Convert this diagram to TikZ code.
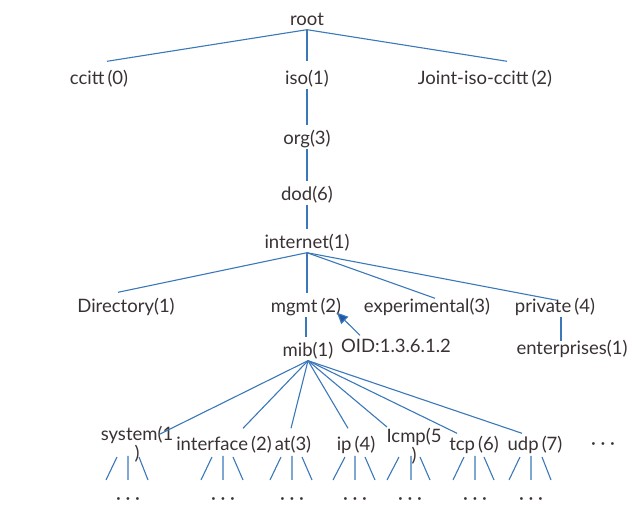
\documentclass[tikz,border=0pt]{standalone}
\usepackage{fontspec}
\setmainfont{Lato}
\usetikzlibrary{arrows.meta}
\definecolor{linkblue}{RGB}{58,120,186}
\definecolor{tipblue}{RGB}{28,90,165}
\definecolor{labelgray}{RGB}{58,50,50}

\begin{document}
\begin{tikzpicture}[x=1pt, y=-1pt,
  lbl/.style={text=labelgray, font=\fontsize{18.5}{16}\selectfont, inner sep=3pt, text height=16pt, text depth=1pt},
  twoline/.style={align=center, text height={}, text depth={}},
  link/.style={draw=linkblue, line width=1.1pt}]
\useasboundingbox (0,0) rectangle (633,526);

\node[lbl](root) at (307,18) {root};
\node[lbl](ccitt) at (99,77) {ccitt\,(0)};
\node[lbl](iso) at (307,77) {iso(1)};
\node[lbl](joint) at (485,77) {Joint-iso-ccitt\,(2)};

\node[lbl](org) at (307,137) {org(3)};
\node[lbl](dod) at (307,193) {dod(6)};
\node[lbl](internet) at (307,241) {internet(1)};

\node[lbl](directory) at (126,305) {Directory(1)};
\node[lbl](mgmt) at (306,305) {mgmt\,(2)};
\node[lbl](experimental) at (427,305) {experimental(3)};
\node[lbl](private) at (555,305) {private\,(4)};

\node[lbl](mib) at (308,349) {mib(1)};
\node[lbl](oid) at (396,345) {OID:1.3.6.1.2};
\node[lbl](enterprises) at (572,347) {enterprises(1)};

\node[lbl,twoline](system) at (137,444) {system(1\\)};
\node[lbl](interface) at (224,443) {interface\,(2)};
\node[lbl](at) at (293,443) {at(3)};
\node[lbl](ip) at (356,443) {ip\,(4)};
\node[lbl,twoline](icmp) at (414,446) {Icmp(5\\)};
\node[lbl](tcp) at (474,443) {tcp\,(6)};
\node[lbl](udp) at (535,443) {udp\,(7)};
\node[lbl](more) at (603,442) {· · ·};

\node[lbl](sysdots) at (128,497) {· · ·};
\node[lbl](intdots) at (223,497) {· · ·};
\node[lbl](atdots) at (292,497) {· · ·};
\node[lbl](ipdots) at (355,497) {· · ·};
\node[lbl](icmpdots) at (410,497) {· · ·};
\node[lbl](tcpdots) at (475,497) {· · ·};
\node[lbl](udpdots) at (531,497) {· · ·};

\draw[link] (root.south) to ([xshift=8pt,yshift=4pt]ccitt.north);
\draw[link] (root.south) to ([yshift=4pt]iso.north);
\draw[link] (root.south) to ([xshift=22pt,yshift=4pt]joint.north);

\draw[link] (iso.south) to (org.north);
\draw[link] (org.south) to (dod.north);
\draw[link] (dod.south) to (internet.north);

\draw[link] (internet.south) to ([xshift=-8pt,yshift=1pt]directory.north);
\draw[link] (internet.south) to (internet.south |- mgmt.north);
\draw[link] (internet.south) to ([xshift=8pt,yshift=-5pt]experimental.north);
\draw[link] (internet.south) to ([xshift=2pt,yshift=-7pt]private.north);

\draw[link] (mgmt.south) to (mgmt.south |- mib.north);
\draw[link] ([xshift=6pt]private.south) to ([xshift=-11pt,yshift=-6pt]enterprises.north);
% OID arrow
\draw[link,-{Triangle[length=11pt,width=10pt,fill=tipblue]}] ([xshift=-36pt,yshift=-2pt]oid.north) to ([xshift=31pt,yshift=4pt]mgmt.south);

\draw[link] (mib.south) to ([xshift=23pt,yshift=-11pt]system.north);
\draw[link] (mib.south) to ([xshift=19pt,yshift=3pt]interface.north);
\draw[link] (mib.south) to ([xshift=-2pt,yshift=3pt]at.north);
\draw[link] (mib.south) to ([xshift=-8pt,yshift=3pt]ip.north);
\draw[link] (mib.south) to ([xshift=-27pt,yshift=-2pt]icmp.north);
\draw[link] (mib.south) to ([xshift=-17pt,yshift=-2pt]tcp.north);
\draw[link] (mib.south) to ([xshift=-13pt,yshift=-2pt]udp.north);

% three stubs under every group
\draw[link] (sysdots) ++(-11,-40) -- ++(-11,23) (sysdots) ++(0,-41) -- ++(0,24) (sysdots) ++(11,-40) -- ++(9,23);
\draw[link] (intdots) ++(-11,-40) -- ++(-11,23) (intdots) ++(0,-41) -- ++(0,24) (intdots) ++(10,-40) -- ++(10,23);
\draw[link] (atdots) ++(-11,-40) -- ++(-11,23) (atdots) ++(0,-41) -- ++(0,24) (atdots) ++(10,-40) -- ++(10,23);
\draw[link] (ipdots) ++(-10,-40) -- ++(-12,23) (ipdots) ++(0,-41) -- ++(0,24) (ipdots) ++(10,-40) -- ++(10,23);
\draw[link] (icmpdots) ++(-11,-40) -- ++(-12,23) (icmpdots) ++(1,-41) -- ++(0,24) (icmpdots) ++(10,-40) -- ++(10,23);
\draw[link] (tcpdots) ++(-11,-40) -- ++(-11,23) (tcpdots) ++(0,-41) -- ++(0,24) (tcpdots) ++(9,-40) -- ++(10,23);
\draw[link] (udpdots) ++(-11,-40) -- ++(-11,23) (udpdots) ++(0,-41) -- ++(0,24) (udpdots) ++(11,-40) -- ++(9,23);

\end{tikzpicture}
\end{document}
